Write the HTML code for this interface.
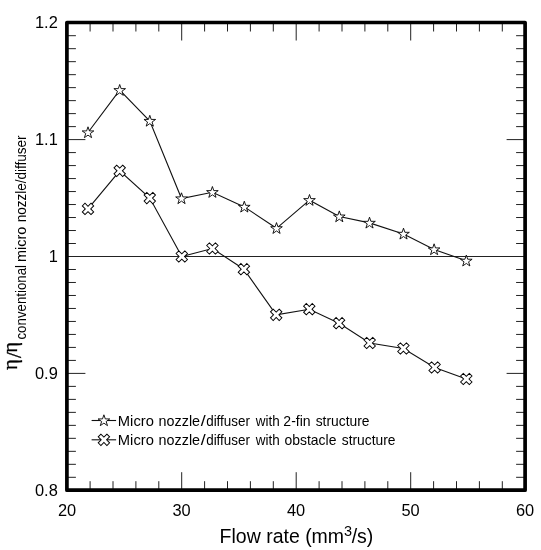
<!DOCTYPE html>
<html><head><meta charset="utf-8"><title>Chart</title>
<style>html,body{margin:0;padding:0;background:#fff}svg{display:block}text{font-family:"Liberation Sans",Arial,sans-serif;fill:#000}</style></head><body>
<svg width="541" height="550" viewBox="0 0 541 550">
<rect width="541" height="550" fill="#fff"/>
<defs><polygon id="st" points="0.00,-5.70 1.40,-1.59 5.82,-1.55 2.27,1.02 3.60,5.15 0.00,2.64 -3.60,5.15 -2.27,1.02 -5.82,-1.55 -1.40,-1.59" fill="#fff" stroke="#000" stroke-width="0.9" stroke-linejoin="miter"/>
<polygon id="cr" points="-1.90,-6.15 1.90,-6.15 1.90,-1.90 6.15,-1.90 6.15,1.90 1.90,1.90 1.90,6.15 -1.90,6.15 -1.90,1.90 -6.15,1.90 -6.15,-1.90 -1.90,-1.90" fill="#fff" stroke="#000" stroke-width="0.95" transform="rotate(45)"/></defs>
<path d="M66.90 35.69h9.0M525.10 35.69h-9.0M66.90 48.68h9.0M525.10 48.68h-9.0M66.90 61.67h9.0M525.10 61.67h-9.0M66.90 74.66h9.0M525.10 74.66h-9.0M66.90 87.64h9.0M525.10 87.64h-9.0M66.90 100.63h9.0M525.10 100.63h-9.0M66.90 113.62h9.0M525.10 113.62h-9.0M66.90 126.61h9.0M525.10 126.61h-9.0M66.90 139.60h18.5M525.10 139.60h-18.5M66.90 152.59h9.0M525.10 152.59h-9.0M66.90 165.58h9.0M525.10 165.58h-9.0M66.90 178.57h9.0M525.10 178.57h-9.0M66.90 191.56h9.0M525.10 191.56h-9.0M66.90 204.54h9.0M525.10 204.54h-9.0M66.90 217.53h9.0M525.10 217.53h-9.0M66.90 230.52h9.0M525.10 230.52h-9.0M66.90 243.51h9.0M525.10 243.51h-9.0M66.90 256.50h18.5M525.10 256.50h-18.5M66.90 269.49h9.0M525.10 269.49h-9.0M66.90 282.48h9.0M525.10 282.48h-9.0M66.90 295.47h9.0M525.10 295.47h-9.0M66.90 308.46h9.0M525.10 308.46h-9.0M66.90 321.44h9.0M525.10 321.44h-9.0M66.90 334.43h9.0M525.10 334.43h-9.0M66.90 347.42h9.0M525.10 347.42h-9.0M66.90 360.41h9.0M525.10 360.41h-9.0M66.90 373.40h18.5M525.10 373.40h-18.5M66.90 386.39h9.0M525.10 386.39h-9.0M66.90 399.38h9.0M525.10 399.38h-9.0M66.90 412.37h9.0M525.10 412.37h-9.0M66.90 425.36h9.0M525.10 425.36h-9.0M66.90 438.34h9.0M525.10 438.34h-9.0M66.90 451.33h9.0M525.10 451.33h-9.0M66.90 464.32h9.0M525.10 464.32h-9.0M66.90 477.31h9.0M525.10 477.31h-9.0M90.10 22.50v9.0M90.10 490.20v-9.0M113.00 22.50v9.0M113.00 490.20v-9.0M135.90 22.50v9.0M135.90 490.20v-9.0M158.80 22.50v9.0M158.80 490.20v-9.0M181.70 22.50v18.0M181.70 490.20v-18.0M204.60 22.50v9.0M204.60 490.20v-9.0M227.50 22.50v9.0M227.50 490.20v-9.0M250.40 22.50v9.0M250.40 490.20v-9.0M273.30 22.50v9.0M273.30 490.20v-9.0M296.20 22.50v18.0M296.20 490.20v-18.0M319.10 22.50v9.0M319.10 490.20v-9.0M342.00 22.50v9.0M342.00 490.20v-9.0M364.90 22.50v9.0M364.90 490.20v-9.0M387.80 22.50v9.0M387.80 490.20v-9.0M410.70 22.50v18.0M410.70 490.20v-18.0M433.60 22.50v9.0M433.60 490.20v-9.0M456.50 22.50v9.0M456.50 490.20v-9.0M479.40 22.50v9.0M479.40 490.20v-9.0M502.30 22.50v9.0M502.30 490.20v-9.0" stroke="#222" stroke-width="1" fill="none"/>
<path d="M66.9 256.50H525.1" stroke="#222" stroke-width="1" fill="none"/>
<polyline points="88.0,132.5 119.7,90.2 149.8,121.0 181.5,198.5 212.4,192.2 244.3,206.9 276.5,228.3 309.5,200.2 339.3,216.6 369.5,222.9 403.5,233.9 434.1,249.5 466.3,260.8" fill="none" stroke="#111" stroke-width="1.1"/>
<polyline points="88.0,208.9 119.7,170.8 149.8,198.1 181.8,256.5 212.4,248.5 243.9,269.2 276.2,314.8 309.3,309.2 339.1,323.2 369.7,343.0 403.4,348.5 434.6,367.5 466.3,379.0" fill="none" stroke="#111" stroke-width="1.1"/>
<use href="#st" x="88.0" y="132.5"/>
<use href="#st" x="119.7" y="90.2"/>
<use href="#st" x="149.8" y="121.0"/>
<use href="#st" x="181.5" y="198.5"/>
<use href="#st" x="212.4" y="192.2"/>
<use href="#st" x="244.3" y="206.9"/>
<use href="#st" x="276.5" y="228.3"/>
<use href="#st" x="309.5" y="200.2"/>
<use href="#st" x="339.3" y="216.6"/>
<use href="#st" x="369.5" y="222.9"/>
<use href="#st" x="403.5" y="233.9"/>
<use href="#st" x="434.1" y="249.5"/>
<use href="#st" x="466.3" y="260.8"/>
<use href="#cr" x="88.0" y="208.9"/>
<use href="#cr" x="119.7" y="170.8"/>
<use href="#cr" x="149.8" y="198.1"/>
<use href="#cr" x="181.8" y="256.5"/>
<use href="#cr" x="212.4" y="248.5"/>
<use href="#cr" x="243.9" y="269.2"/>
<use href="#cr" x="276.2" y="314.8"/>
<use href="#cr" x="309.3" y="309.2"/>
<use href="#cr" x="339.1" y="323.2"/>
<use href="#cr" x="369.7" y="343.0"/>
<use href="#cr" x="403.4" y="348.5"/>
<use href="#cr" x="434.6" y="367.5"/>
<use href="#cr" x="466.3" y="379.0"/>
<rect x="66.9" y="22.5" width="458.2" height="467.7" fill="none" stroke="#000" stroke-width="3.7" stroke-linejoin="round"/>
<text x="57.8" y="28.40" font-size="16.4" text-anchor="end">1.2</text>
<text x="57.8" y="145.35" font-size="16.4" text-anchor="end">1.1</text>
<text x="57.8" y="262.30" font-size="16.4" text-anchor="end">1</text>
<text x="57.8" y="379.25" font-size="16.4" text-anchor="end">0.9</text>
<text x="57.8" y="496.20" font-size="16.4" text-anchor="end">0.8</text>
<text x="67.0" y="516" font-size="16.4" text-anchor="middle">20</text>
<text x="181.5" y="516" font-size="16.4" text-anchor="middle">30</text>
<text x="296.0" y="516" font-size="16.4" text-anchor="middle">40</text>
<text x="410.5" y="516" font-size="16.4" text-anchor="middle">50</text>
<text x="525.0" y="516" font-size="16.4" text-anchor="middle">60</text>
<text transform="translate(219.6 543.4) scale(1 1.04)" font-size="19.5">Flow rate (mm<tspan font-size="14.5" dy="-7.4">3</tspan><tspan dy="7.4" dx="-0.5">/s)</tspan></text>
<text transform="translate(17.1 370) rotate(-90)" font-size="20.5" style="font-family:'Liberation Serif',serif" stroke="#000" stroke-width="0.3">η<tspan dy="3.6" dx="1.4">/</tspan><tspan dy="-3.6" dx="-0.5">η</tspan></text>
<text transform="translate(26.3 340) rotate(-90) scale(1 1.06)" font-size="13.6"><tspan x="0.48" textLength="74.59" lengthAdjust="spacingAndGlyphs">conventional</tspan> <tspan x="78.00" textLength="35.29" lengthAdjust="spacingAndGlyphs">micro</tspan> <tspan x="117.66" textLength="86.91" lengthAdjust="spacingAndGlyphs">nozzle/diffuser</tspan></text>
<path d="M91.6 420.5H116.1" stroke="#111" stroke-width="1.1"/>
<use href="#st" x="103.9" y="420.5"/>
<text y="426.3" font-size="14.6"><tspan x="117.85" textLength="36.05" lengthAdjust="spacingAndGlyphs">Micro</tspan> <tspan x="158.60" textLength="41.48" lengthAdjust="spacingAndGlyphs">nozzle</tspan><tspan x="200.70" textLength="4.94" lengthAdjust="spacingAndGlyphs">/</tspan><tspan x="206.18" textLength="43.79" lengthAdjust="spacingAndGlyphs">diffuser</tspan> <tspan x="255.71" textLength="23.95" lengthAdjust="spacingAndGlyphs">with</tspan> <tspan x="283.34" textLength="27.35" lengthAdjust="spacingAndGlyphs">2-fin</tspan> <tspan x="315.68" textLength="53.78" lengthAdjust="spacingAndGlyphs">structure</tspan></text>
<path d="M91.6 439.8H116.1" stroke="#111" stroke-width="1.1"/>
<use href="#cr" x="103.9" y="439.8"/>
<text y="444.8" font-size="14.6"><tspan x="117.85" textLength="36.05" lengthAdjust="spacingAndGlyphs">Micro</tspan> <tspan x="158.60" textLength="41.48" lengthAdjust="spacingAndGlyphs">nozzle</tspan><tspan x="200.70" textLength="4.94" lengthAdjust="spacingAndGlyphs">/</tspan><tspan x="206.18" textLength="43.79" lengthAdjust="spacingAndGlyphs">diffuser</tspan> <tspan x="255.71" textLength="23.95" lengthAdjust="spacingAndGlyphs">with</tspan> <tspan x="284.57" textLength="51.80" lengthAdjust="spacingAndGlyphs">obstacle</tspan> <tspan x="341.78" textLength="53.67" lengthAdjust="spacingAndGlyphs">structure</tspan></text>
</svg></body></html>
